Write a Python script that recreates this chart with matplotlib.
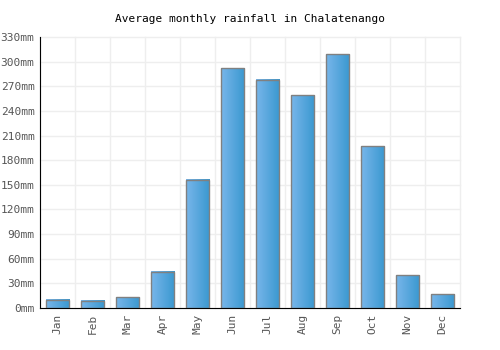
import numpy as np
import matplotlib
matplotlib.use("Agg")
import matplotlib.pyplot as plt
from matplotlib.colors import LinearSegmentedColormap

months = ["Jan", "Feb", "Mar", "Apr", "May", "Jun",
          "Jul", "Aug", "Sep", "Oct", "Nov", "Dec"]
rainfall = [10, 9, 13, 44, 156, 292, 278, 259, 309, 197, 40, 17]
y_ticks = list(range(0, 331, 30))
y_labels = [f"{v}mm" for v in y_ticks]

plt.rcParams["font.family"] = "DejaVu Sans Mono"

fig = plt.figure(figsize=(5, 3.5), dpi=100)
ax = fig.add_axes([0.08, 0.12, 0.84, 0.774])

grad = LinearSegmentedColormap.from_list("bar", ["#78b6ea", "#3a98d0"])
g = np.linspace(0, 1, 64).reshape(1, -1)
width = 0.67

x = np.arange(len(months))
ax.bar(x, rainfall, width=width, facecolor="none",
       edgecolor="#808080", linewidth=1.0, zorder=3)
for xi, h in zip(x, rainfall):
    ax.imshow(g, extent=[xi - width / 2, xi + width / 2, 0, h],
              aspect="auto", cmap=grad, zorder=2)

ax.set_xlim(-0.5, len(months) - 0.5)
ax.set_ylim(0, 330)
ax.set_xticks(x)
ax.set_xticklabels(months, rotation=90, fontsize=8, color="#555555")
ax.set_yticks(y_ticks)
ax.set_yticklabels(y_labels, fontsize=8, color="#555555")
ax.set_xticks(np.arange(-0.5, len(months) + 0.5), minor=True)
ax.grid(True, which="minor", axis="x", color="#eeeeee", linewidth=1, clip_on=False)
ax.grid(True, which="major", axis="y", color="#eeeeee", linewidth=1, clip_on=False)
ax.tick_params(which="both", length=0, pad=4)
ax.set_axisbelow(True)

for side in ["top", "right"]:
    ax.spines[side].set_visible(False)
ax.spines["left"].set_color("black")
ax.spines["bottom"].set_color("black")

fig.text(0.5, 0.945, "Average monthly rainfall in Chalatenango",
         ha="center", va="center", fontsize=8, color="black")

fig.savefig("out.png", dpi=100)
